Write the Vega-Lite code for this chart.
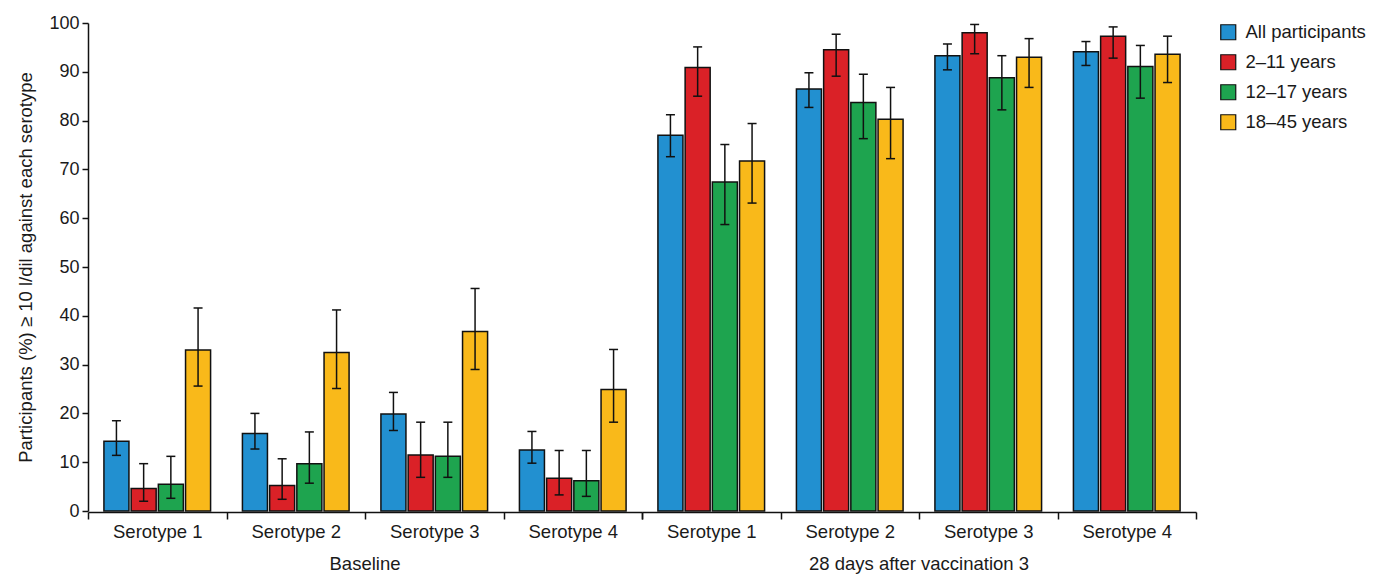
{
  "$schema": "https://vega.github.io/schema/vega-lite/v6.json",
  "background": "white",
  "padding": {"left": 16, "top": 14, "right": 5, "bottom": 5},
  "config": {
    "font": "Liberation Sans",
    "view": {"stroke": null},
    "axis": {"domainColor": "#111", "domainWidth": 1.5, "tickColor": "#111", "tickWidth": 1.5, "labelColor": "#1a1a1a", "titleColor": "#1a1a1a", "labelFont": "Liberation Sans", "titleFont": "Liberation Sans", "grid": false}
  },
  "data": {"values": [
    {"time": "Baseline", "sero": "Serotype 1", "grp": "All participants", "v": 14.3, "lo": 11.4, "hi": 18.5},
    {"time": "Baseline", "sero": "Serotype 1", "grp": "2–11 years", "v": 4.6, "lo": 2.0, "hi": 9.7},
    {"time": "Baseline", "sero": "Serotype 1", "grp": "12–17 years", "v": 5.5, "lo": 2.6, "hi": 11.2},
    {"time": "Baseline", "sero": "Serotype 1", "grp": "18–45 years", "v": 33.0, "lo": 25.6, "hi": 41.6},
    {"time": "Baseline", "sero": "Serotype 2", "grp": "All participants", "v": 15.9, "lo": 12.7, "hi": 20.0},
    {"time": "Baseline", "sero": "Serotype 2", "grp": "2–11 years", "v": 5.2, "lo": 2.4, "hi": 10.7},
    {"time": "Baseline", "sero": "Serotype 2", "grp": "12–17 years", "v": 9.7, "lo": 5.7, "hi": 16.2},
    {"time": "Baseline", "sero": "Serotype 2", "grp": "18–45 years", "v": 32.5, "lo": 25.1, "hi": 41.2},
    {"time": "Baseline", "sero": "Serotype 3", "grp": "All participants", "v": 19.9, "lo": 16.5, "hi": 24.3},
    {"time": "Baseline", "sero": "Serotype 3", "grp": "2–11 years", "v": 11.5, "lo": 6.9, "hi": 18.2},
    {"time": "Baseline", "sero": "Serotype 3", "grp": "12–17 years", "v": 11.2, "lo": 6.9, "hi": 18.2},
    {"time": "Baseline", "sero": "Serotype 3", "grp": "18–45 years", "v": 36.8, "lo": 29.0, "hi": 45.6},
    {"time": "Baseline", "sero": "Serotype 4", "grp": "All participants", "v": 12.5, "lo": 9.8, "hi": 16.3},
    {"time": "Baseline", "sero": "Serotype 4", "grp": "2–11 years", "v": 6.7, "lo": 3.3, "hi": 12.4},
    {"time": "Baseline", "sero": "Serotype 4", "grp": "12–17 years", "v": 6.2, "lo": 3.0, "hi": 12.4},
    {"time": "Baseline", "sero": "Serotype 4", "grp": "18–45 years", "v": 24.9, "lo": 18.2, "hi": 33.1},
    {"time": "28 days after vaccination 3", "sero": "Serotype 1", "grp": "All participants", "v": 77.0, "lo": 72.6, "hi": 81.2},
    {"time": "28 days after vaccination 3", "sero": "Serotype 1", "grp": "2–11 years", "v": 90.9, "lo": 85.0, "hi": 95.1},
    {"time": "28 days after vaccination 3", "sero": "Serotype 1", "grp": "12–17 years", "v": 67.4, "lo": 58.7, "hi": 75.1},
    {"time": "28 days after vaccination 3", "sero": "Serotype 1", "grp": "18–45 years", "v": 71.7, "lo": 63.1, "hi": 79.4},
    {"time": "28 days after vaccination 3", "sero": "Serotype 2", "grp": "All participants", "v": 86.5, "lo": 82.7, "hi": 89.8},
    {"time": "28 days after vaccination 3", "sero": "Serotype 2", "grp": "2–11 years", "v": 94.5, "lo": 89.1, "hi": 97.7},
    {"time": "28 days after vaccination 3", "sero": "Serotype 2", "grp": "12–17 years", "v": 83.7, "lo": 76.3, "hi": 89.5},
    {"time": "28 days after vaccination 3", "sero": "Serotype 2", "grp": "18–45 years", "v": 80.3, "lo": 72.2, "hi": 86.8},
    {"time": "28 days after vaccination 3", "sero": "Serotype 3", "grp": "All participants", "v": 93.3, "lo": 90.4, "hi": 95.7},
    {"time": "28 days after vaccination 3", "sero": "Serotype 3", "grp": "2–11 years", "v": 98.0, "lo": 93.7, "hi": 99.7},
    {"time": "28 days after vaccination 3", "sero": "Serotype 3", "grp": "12–17 years", "v": 88.8, "lo": 82.2, "hi": 93.3},
    {"time": "28 days after vaccination 3", "sero": "Serotype 3", "grp": "18–45 years", "v": 93.0, "lo": 86.8, "hi": 96.8},
    {"time": "28 days after vaccination 3", "sero": "Serotype 4", "grp": "All participants", "v": 94.1, "lo": 91.3, "hi": 96.2},
    {"time": "28 days after vaccination 3", "sero": "Serotype 4", "grp": "2–11 years", "v": 97.3, "lo": 92.8, "hi": 99.2},
    {"time": "28 days after vaccination 3", "sero": "Serotype 4", "grp": "12–17 years", "v": 91.1, "lo": 84.6, "hi": 95.4},
    {"time": "28 days after vaccination 3", "sero": "Serotype 4", "grp": "18–45 years", "v": 93.6, "lo": 87.8, "hi": 97.3}
  ]},
  "spacing": 0,
  "facet": {
    "column": {
      "field": "time", "type": "nominal",
      "sort": ["Baseline", "28 days after vaccination 3"],
      "title": null,
      "header": {"labelOrient": "bottom", "labelFontSize": 18.5, "labelPadding": 14, "labelColor": "#1a1a1a", "labelFont": "Liberation Sans"}
    }
  },
  "spec": {
    "width": 554,
    "height": 488,
    "encoding": {
      "x": {
        "field": "sero", "type": "nominal", "title": null,
        "scale": {"paddingInner": 0, "paddingOuter": 0},
        "axis": {"labelAngle": 0, "labelFontSize": 18.5, "labelPadding": 3, "tickSize": 7, "tickBand": "extent"}
      },
      "xOffset": {
        "field": "grp", "type": "nominal",
        "sort": ["All participants", "2–11 years", "12–17 years", "18–45 years"],
        "scale": {"paddingInner": 0.08, "paddingOuter": 0.585}
      }
    },
    "layer": [
      {
        "mark": {"type": "bar", "stroke": "#111", "strokeWidth": 1.5},
        "encoding": {
          "y": {"field": "v", "type": "quantitative", "title": "Participants (%) ≥ 10 l/dil against each serotype",
            "scale": {"domain": [0, 100], "nice": false},
            "axis": {"values": [0, 10, 20, 30, 40, 50, 60, 70, 80, 90, 100], "labelFontSize": 18, "tickSize": 6, "labelPadding": 3, "titleFontSize": 18.5, "titleFontWeight": "normal", "titlePadding": 13.5}},
          "color": {
            "field": "grp", "type": "nominal",
            "scale": {"domain": ["All participants", "2–11 years", "12–17 years", "18–45 years"], "range": ["#2290D0", "#DA2127", "#1EA44F", "#F9B91A"]},
            "legend": {"title": null, "symbolType": "square", "symbolSize": 225, "symbolStrokeColor": "#111", "symbolStrokeWidth": 1.2, "symbolOpacity": 1, "labelFontSize": 18.5, "labelColor": "#1a1a1a", "labelFont": "Liberation Sans", "labelOffset": 8, "rowPadding": 9, "offset": 22}
          }
        }
      },
      {
        "mark": {"type": "rule", "color": "#111", "strokeWidth": 1.5},
        "encoding": {
          "y": {"field": "lo", "type": "quantitative", "title": "Participants (%) ≥ 10 l/dil against each serotype"},
          "y2": {"field": "hi"}
        }
      },
      {
        "mark": {"type": "tick", "color": "#111", "thickness": 1.5, "size": 9, "opacity": 1},
        "encoding": {
          "y": {"field": "hi", "type": "quantitative", "title": "Participants (%) ≥ 10 l/dil against each serotype"}
        }
      },
      {
        "mark": {"type": "tick", "color": "#111", "thickness": 1.5, "size": 9, "opacity": 1},
        "encoding": {
          "y": {"field": "lo", "type": "quantitative", "title": "Participants (%) ≥ 10 l/dil against each serotype"}
        }
      }
    ]
  }
}
